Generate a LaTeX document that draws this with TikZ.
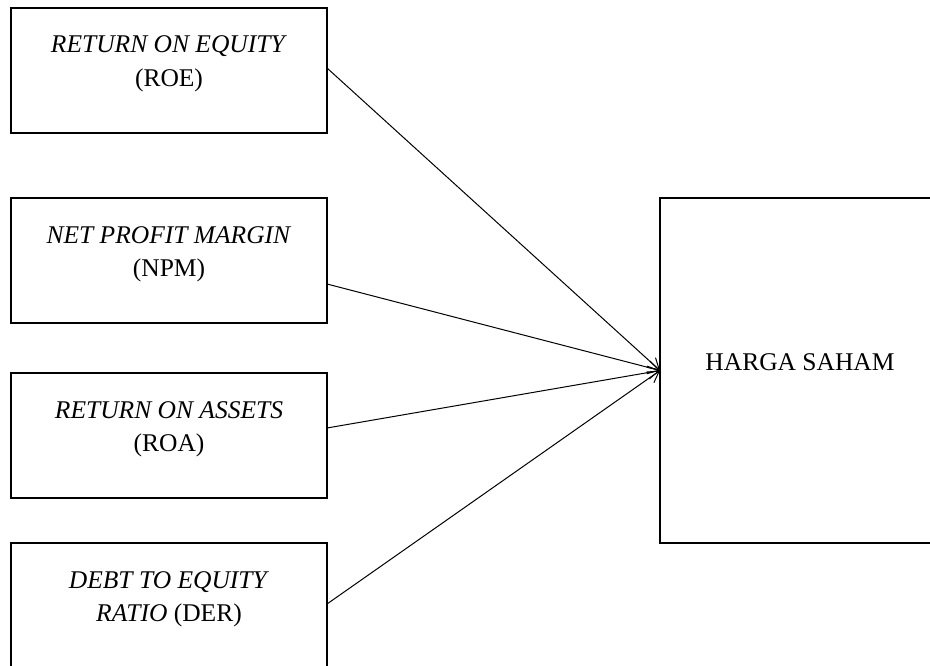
\documentclass[tikz,border=0pt]{standalone}
\usepackage{fontspec}
\setmainfont{Liberation Serif}
\usetikzlibrary{arrows.meta,calc}
\begin{document}
\begin{tikzpicture}[x=1pt,y=-1pt,
  box/.style={draw, line width=2.6pt, minimum width=316pt, minimum height=125pt, inner sep=0pt, outer sep=0pt},
  lbl/.style={align=center, inner sep=0pt, anchor=base, font=\fontsize{25.5}{33.5}\selectfont},
  link/.style={line width=1pt, -{Straight Barb[length=11pt,width=13pt]}}]
\clip (0,0) rectangle (930,666);
\node[box] (b1) at (169,70.5) {};
\node[box] (b2) at (169,260.5) {};
\node[box] (b3) at (169,435.5) {};
\node[box] (b4) at (169,605.5) {};
\node[box, minimum width=280pt, minimum height=345pt] (h) at (800,370.5) {};
\node[lbl] (t1) at (169,86.5) {\textit{RETURN ON EQUITY}\\(ROE)};
\node[lbl] (t2) at (169,276.5) {\textit{NET PROFIT MARGIN}\\(NPM)};
\node[lbl] (t3) at (169,451.5) {\textit{RETURN ON ASSETS}\\(ROA)};
\node[lbl] (t4) at (169,621.5) {\textit{DEBT TO EQUITY}\\\textit{RATIO} (DER)};
\node[lbl] (th) at (800,370) {HARGA SAHAM};
\draw[link] ([yshift=2.5pt]b1.east) -- (h.west);
\draw[link] ([yshift=-23.5pt]b2.east) -- (h.west);
\draw[link] ([yshift=7.5pt]b3.east) -- (h.west);
\draw[link] ([yshift=1.5pt]b4.east) -- (h.west);
\end{tikzpicture}
\end{document}
